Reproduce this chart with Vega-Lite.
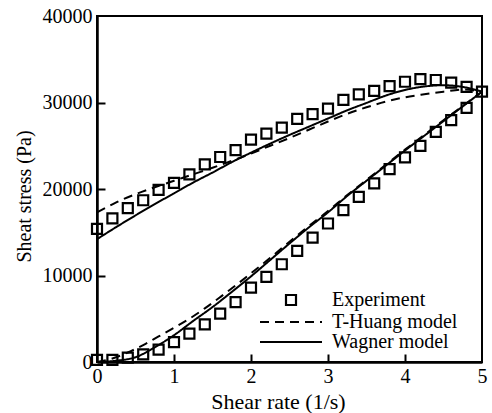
{
  "$schema": "https://vega.github.io/schema/vega-lite/v6.json",
  "width": 385,
  "height": 346,
  "autosize": "none",
  "padding": {"left": 97, "top": 16, "right": 10, "bottom": 51},
  "background": "white",
  "config": {
    "view": {"stroke": "black", "strokeWidth": 2},
    "font": "Liberation Serif"
  },
  "datasets": {
    "experiment": [
      {"series": "Experiment", "branch": "upper", "rate": 0.0, "stress": 15400},
      {"series": "Experiment", "branch": "upper", "rate": 0.2, "stress": 16600},
      {"series": "Experiment", "branch": "upper", "rate": 0.4, "stress": 17800},
      {"series": "Experiment", "branch": "upper", "rate": 0.6, "stress": 18700},
      {"series": "Experiment", "branch": "upper", "rate": 0.8, "stress": 19900},
      {"series": "Experiment", "branch": "upper", "rate": 1.0, "stress": 20700},
      {"series": "Experiment", "branch": "upper", "rate": 1.2, "stress": 21700},
      {"series": "Experiment", "branch": "upper", "rate": 1.4, "stress": 22850},
      {"series": "Experiment", "branch": "upper", "rate": 1.6, "stress": 23700},
      {"series": "Experiment", "branch": "upper", "rate": 1.8, "stress": 24500},
      {"series": "Experiment", "branch": "upper", "rate": 2.0, "stress": 25700},
      {"series": "Experiment", "branch": "upper", "rate": 2.2, "stress": 26400},
      {"series": "Experiment", "branch": "upper", "rate": 2.4, "stress": 27100},
      {"series": "Experiment", "branch": "upper", "rate": 2.6, "stress": 28100},
      {"series": "Experiment", "branch": "upper", "rate": 2.8, "stress": 28650},
      {"series": "Experiment", "branch": "upper", "rate": 3.0, "stress": 29300},
      {"series": "Experiment", "branch": "upper", "rate": 3.2, "stress": 30300},
      {"series": "Experiment", "branch": "upper", "rate": 3.4, "stress": 30950},
      {"series": "Experiment", "branch": "upper", "rate": 3.6, "stress": 31350},
      {"series": "Experiment", "branch": "upper", "rate": 3.8, "stress": 31900},
      {"series": "Experiment", "branch": "upper", "rate": 4.0, "stress": 32400},
      {"series": "Experiment", "branch": "upper", "rate": 4.2, "stress": 32700},
      {"series": "Experiment", "branch": "upper", "rate": 4.4, "stress": 32600},
      {"series": "Experiment", "branch": "upper", "rate": 4.6, "stress": 32300},
      {"series": "Experiment", "branch": "upper", "rate": 4.8, "stress": 31800},
      {"series": "Experiment", "branch": "upper", "rate": 5.0, "stress": 31250},
      {"series": "Experiment", "branch": "lower", "rate": 0.0, "stress": 250},
      {"series": "Experiment", "branch": "lower", "rate": 0.2, "stress": 250},
      {"series": "Experiment", "branch": "lower", "rate": 0.4, "stress": 500},
      {"series": "Experiment", "branch": "lower", "rate": 0.6, "stress": 880},
      {"series": "Experiment", "branch": "lower", "rate": 0.8, "stress": 1420},
      {"series": "Experiment", "branch": "lower", "rate": 1.0, "stress": 2300},
      {"series": "Experiment", "branch": "lower", "rate": 1.2, "stress": 3280},
      {"series": "Experiment", "branch": "lower", "rate": 1.4, "stress": 4350},
      {"series": "Experiment", "branch": "lower", "rate": 1.6, "stress": 5590},
      {"series": "Experiment", "branch": "lower", "rate": 1.8, "stress": 6930},
      {"series": "Experiment", "branch": "lower", "rate": 2.0, "stress": 8600},
      {"series": "Experiment", "branch": "lower", "rate": 2.2, "stress": 9830},
      {"series": "Experiment", "branch": "lower", "rate": 2.4, "stress": 11300},
      {"series": "Experiment", "branch": "lower", "rate": 2.6, "stress": 12840},
      {"series": "Experiment", "branch": "lower", "rate": 2.8, "stress": 14390},
      {"series": "Experiment", "branch": "lower", "rate": 3.0, "stress": 16010},
      {"series": "Experiment", "branch": "lower", "rate": 3.2, "stress": 17550},
      {"series": "Experiment", "branch": "lower", "rate": 3.4, "stress": 19090},
      {"series": "Experiment", "branch": "lower", "rate": 3.6, "stress": 20640},
      {"series": "Experiment", "branch": "lower", "rate": 3.8, "stress": 22290},
      {"series": "Experiment", "branch": "lower", "rate": 4.0, "stress": 23650},
      {"series": "Experiment", "branch": "lower", "rate": 4.2, "stress": 24990},
      {"series": "Experiment", "branch": "lower", "rate": 4.4, "stress": 26610},
      {"series": "Experiment", "branch": "lower", "rate": 4.6, "stress": 27960},
      {"series": "Experiment", "branch": "lower", "rate": 4.8, "stress": 29390}
    ],
    "models": [
      {"model": "Wagner model", "branch": "upper", "rate": 0.0, "stress": 14200},
      {"model": "Wagner model", "branch": "upper", "rate": 0.25, "stress": 15600},
      {"model": "Wagner model", "branch": "upper", "rate": 0.5, "stress": 16950},
      {"model": "Wagner model", "branch": "upper", "rate": 0.75, "stress": 18250},
      {"model": "Wagner model", "branch": "upper", "rate": 1.0, "stress": 19500},
      {"model": "Wagner model", "branch": "upper", "rate": 1.25, "stress": 20750},
      {"model": "Wagner model", "branch": "upper", "rate": 1.5, "stress": 21900},
      {"model": "Wagner model", "branch": "upper", "rate": 1.75, "stress": 23100},
      {"model": "Wagner model", "branch": "upper", "rate": 2.0, "stress": 24200},
      {"model": "Wagner model", "branch": "upper", "rate": 2.25, "stress": 25250},
      {"model": "Wagner model", "branch": "upper", "rate": 2.5, "stress": 26250},
      {"model": "Wagner model", "branch": "upper", "rate": 2.75, "stress": 27200},
      {"model": "Wagner model", "branch": "upper", "rate": 3.0, "stress": 28150},
      {"model": "Wagner model", "branch": "upper", "rate": 3.25, "stress": 29100},
      {"model": "Wagner model", "branch": "upper", "rate": 3.5, "stress": 29950},
      {"model": "Wagner model", "branch": "upper", "rate": 3.75, "stress": 30800},
      {"model": "Wagner model", "branch": "upper", "rate": 4.0, "stress": 31450},
      {"model": "Wagner model", "branch": "upper", "rate": 4.25, "stress": 31850},
      {"model": "Wagner model", "branch": "upper", "rate": 4.5, "stress": 32000},
      {"model": "Wagner model", "branch": "upper", "rate": 4.75, "stress": 31800},
      {"model": "Wagner model", "branch": "upper", "rate": 5.0, "stress": 31250},
      {"model": "Wagner model", "branch": "lower", "rate": 0.0, "stress": 0},
      {"model": "Wagner model", "branch": "lower", "rate": 0.25, "stress": 150},
      {"model": "Wagner model", "branch": "lower", "rate": 0.5, "stress": 550},
      {"model": "Wagner model", "branch": "lower", "rate": 0.75, "stress": 1700},
      {"model": "Wagner model", "branch": "lower", "rate": 1.0, "stress": 3100},
      {"model": "Wagner model", "branch": "lower", "rate": 1.25, "stress": 4750},
      {"model": "Wagner model", "branch": "lower", "rate": 1.5, "stress": 6350},
      {"model": "Wagner model", "branch": "lower", "rate": 1.75, "stress": 8100},
      {"model": "Wagner model", "branch": "lower", "rate": 2.0, "stress": 9900},
      {"model": "Wagner model", "branch": "lower", "rate": 2.25, "stress": 11800},
      {"model": "Wagner model", "branch": "lower", "rate": 2.5, "stress": 13700},
      {"model": "Wagner model", "branch": "lower", "rate": 2.75, "stress": 15550},
      {"model": "Wagner model", "branch": "lower", "rate": 3.0, "stress": 17300},
      {"model": "Wagner model", "branch": "lower", "rate": 3.25, "stress": 19200},
      {"model": "Wagner model", "branch": "lower", "rate": 3.5, "stress": 20950},
      {"model": "Wagner model", "branch": "lower", "rate": 3.75, "stress": 22700},
      {"model": "Wagner model", "branch": "lower", "rate": 4.0, "stress": 24450},
      {"model": "Wagner model", "branch": "lower", "rate": 4.25, "stress": 26150},
      {"model": "Wagner model", "branch": "lower", "rate": 4.5, "stress": 27850},
      {"model": "Wagner model", "branch": "lower", "rate": 4.75, "stress": 29550},
      {"model": "Wagner model", "branch": "lower", "rate": 5.0, "stress": 31250},
      {"model": "T-Huang model", "branch": "upper", "rate": 0.0, "stress": 17300},
      {"model": "T-Huang model", "branch": "upper", "rate": 0.25, "stress": 18450},
      {"model": "T-Huang model", "branch": "upper", "rate": 0.5, "stress": 19400},
      {"model": "T-Huang model", "branch": "upper", "rate": 0.75, "stress": 20200},
      {"model": "T-Huang model", "branch": "upper", "rate": 1.0, "stress": 20950},
      {"model": "T-Huang model", "branch": "upper", "rate": 1.25, "stress": 21700},
      {"model": "T-Huang model", "branch": "upper", "rate": 1.5, "stress": 22450},
      {"model": "T-Huang model", "branch": "upper", "rate": 1.75, "stress": 23250},
      {"model": "T-Huang model", "branch": "upper", "rate": 2.0, "stress": 24100},
      {"model": "T-Huang model", "branch": "upper", "rate": 2.25, "stress": 25000},
      {"model": "T-Huang model", "branch": "upper", "rate": 2.5, "stress": 25900},
      {"model": "T-Huang model", "branch": "upper", "rate": 2.75, "stress": 26850},
      {"model": "T-Huang model", "branch": "upper", "rate": 3.0, "stress": 27800},
      {"model": "T-Huang model", "branch": "upper", "rate": 3.25, "stress": 28700},
      {"model": "T-Huang model", "branch": "upper", "rate": 3.5, "stress": 29450},
      {"model": "T-Huang model", "branch": "upper", "rate": 3.75, "stress": 30100},
      {"model": "T-Huang model", "branch": "upper", "rate": 4.0, "stress": 30600},
      {"model": "T-Huang model", "branch": "upper", "rate": 4.25, "stress": 30950},
      {"model": "T-Huang model", "branch": "upper", "rate": 4.5, "stress": 31250},
      {"model": "T-Huang model", "branch": "upper", "rate": 4.75, "stress": 31500},
      {"model": "T-Huang model", "branch": "upper", "rate": 5.0, "stress": 31250},
      {"model": "T-Huang model", "branch": "lower", "rate": 0.0, "stress": 0},
      {"model": "T-Huang model", "branch": "lower", "rate": 0.2, "stress": 400},
      {"model": "T-Huang model", "branch": "lower", "rate": 0.4, "stress": 1100},
      {"model": "T-Huang model", "branch": "lower", "rate": 0.6, "stress": 1950},
      {"model": "T-Huang model", "branch": "lower", "rate": 0.8, "stress": 2950},
      {"model": "T-Huang model", "branch": "lower", "rate": 1.0, "stress": 3950},
      {"model": "T-Huang model", "branch": "lower", "rate": 1.2, "stress": 5000},
      {"model": "T-Huang model", "branch": "lower", "rate": 1.4, "stress": 6200},
      {"model": "T-Huang model", "branch": "lower", "rate": 1.6, "stress": 7500},
      {"model": "T-Huang model", "branch": "lower", "rate": 1.8, "stress": 8850},
      {"model": "T-Huang model", "branch": "lower", "rate": 2.0, "stress": 10250},
      {"model": "T-Huang model", "branch": "lower", "rate": 2.25, "stress": 12050},
      {"model": "T-Huang model", "branch": "lower", "rate": 2.5, "stress": 13900},
      {"model": "T-Huang model", "branch": "lower", "rate": 2.75, "stress": 15700},
      {"model": "T-Huang model", "branch": "lower", "rate": 3.0, "stress": 17450},
      {"model": "T-Huang model", "branch": "lower", "rate": 3.25, "stress": 19300},
      {"model": "T-Huang model", "branch": "lower", "rate": 3.5, "stress": 21050},
      {"model": "T-Huang model", "branch": "lower", "rate": 3.75, "stress": 22800},
      {"model": "T-Huang model", "branch": "lower", "rate": 4.0, "stress": 24550},
      {"model": "T-Huang model", "branch": "lower", "rate": 4.25, "stress": 26250},
      {"model": "T-Huang model", "branch": "lower", "rate": 4.5, "stress": 27950},
      {"model": "T-Huang model", "branch": "lower", "rate": 4.75, "stress": 29600},
      {"model": "T-Huang model", "branch": "lower", "rate": 5.0, "stress": 31250}
    ]
  },
  "resolve": {"axis": {"x": "independent", "y": "independent"}},
  "layer": [
    {
      "data": {"name": "models"},
      "mark": {"type": "line", "color": "black", "strokeWidth": 2, "interpolate": "monotone"},
      "encoding": {
        "x": {
          "field": "rate",
          "type": "quantitative",
          "scale": {"domain": [0, 5], "nice": false, "zero": false},
          "axis": {
            "orient": "bottom",
            "title": "Shear rate (1/s)",
            "values": [0, 1, 2, 3, 4, 5],
            "grid": false,
            "ticks": false,
            "domainColor": "black",
            "domainWidth": 2.5,
            "labelPadding": 4,
            "labelFlush": false,
            "labelFont": "Liberation Serif",
            "labelFontSize": 20,
            "labelColor": "black",
            "titleFont": "Liberation Serif",
            "titleFontSize": 22,
            "titleFontWeight": "normal",
            "titleColor": "black",
            "titleAlign": "center",
            "titleBaseline": "alphabetic",
            "titleX": 181,
            "titleY": 46
          }
        },
        "y": {
          "field": "stress",
          "type": "quantitative",
          "scale": {"domain": [0, 40000], "nice": false},
          "axis": {
            "orient": "left",
            "title": "Sheat stress (Pa)",
            "values": [0, 10000, 20000, 30000, 40000],
            "format": "d",
            "grid": false,
            "ticks": false,
            "domainColor": "black",
            "domainWidth": 2.5,
            "labelPadding": 5,
            "labelFont": "Liberation Serif",
            "labelFontSize": 20,
            "labelColor": "black",
            "titleFont": "Liberation Serif",
            "titleFontSize": 20,
            "titleFontWeight": "normal",
            "titleColor": "black",
            "titleAngle": -90,
            "titleAlign": "center",
            "titleBaseline": "alphabetic",
            "titleX": -67,
            "titleY": 180
          }
        },
        "detail": {"field": "branch"},
        "strokeDash": {
          "field": "model",
          "type": "nominal",
          "scale": {"domain": ["T-Huang model", "Wagner model"], "range": [[9, 6], [1, 0]]},
          "legend": {
            "title": null,
            "orient": "none",
            "legendX": 184,
            "legendY": 296,
            "padding": 0,
            "rowPadding": 0,
            "symbolType": "M-6.2,0L6.2,0",
            "symbolSize": 100,
            "symbolStrokeWidth": 2,
            "symbolStrokeColor": "black",
            "symbolFillColor": "transparent",
            "labelOffset": 31,
            "labelFont": "Liberation Serif",
            "labelFontSize": 20,
            "labelColor": "black"
          }
        }
      }
    },
    {
      "data": {"name": "experiment"},
      "mark": {"type": "point", "shape": "square", "filled": false, "color": "black", "strokeWidth": 2.2, "size": 100, "opacity": 1},
      "encoding": {
        "x": {
          "field": "rate",
          "type": "quantitative",
          "scale": {"domain": [0, 5], "nice": false, "zero": false},
          "axis": {
            "orient": "top",
            "offset": -346,
            "title": null,
            "values": [1, 2, 3, 4],
            "grid": false,
            "domain": false,
            "labels": false,
            "ticks": true,
            "tickColor": "black",
            "tickWidth": 2,
            "tickSize": 8
          }
        },
        "y": {
          "field": "stress",
          "type": "quantitative",
          "scale": {"domain": [0, 40000], "nice": false},
          "axis": {
            "orient": "right",
            "offset": -385,
            "title": null,
            "values": [10000, 20000, 30000],
            "grid": false,
            "domain": false,
            "labels": false,
            "ticks": true,
            "tickColor": "black",
            "tickWidth": 2,
            "tickSize": 8
          }
        },
        "shape": {
          "field": "series",
          "type": "nominal",
          "scale": {"domain": ["Experiment"], "range": ["square"]},
          "legend": {
            "title": null,
            "orient": "none",
            "legendX": 184,
            "legendY": 274,
            "padding": 0,
            "symbolSize": 100,
            "symbolStrokeWidth": 2.2,
            "symbolStrokeColor": "black",
            "symbolFillColor": "transparent",
            "labelOffset": 31,
            "labelFont": "Liberation Serif",
            "labelFontSize": 20,
            "labelColor": "black"
          }
        }
      }
    }
  ]
}
